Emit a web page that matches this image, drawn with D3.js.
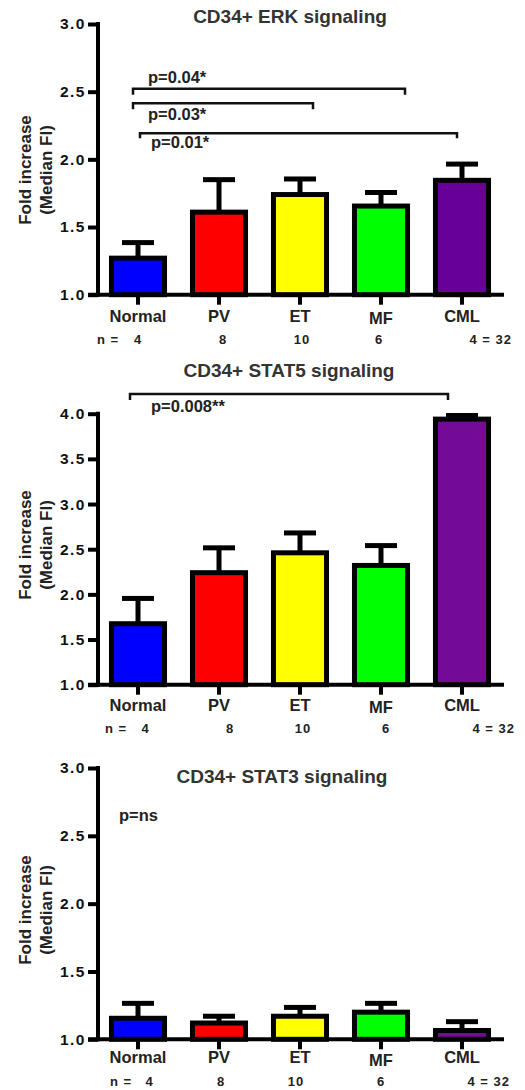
<!DOCTYPE html>
<html>
<head>
<meta charset="utf-8">
<script src="https://cdn.jsdelivr.net/npm/d3@7"></script>
<style>
  body { margin: 0; background: #fff; }
  text { font-family: Arial, "Liberation Sans", sans-serif; font-weight: bold; }
</style>
</head>
<body>
<svg width="525" height="1090"></svg>
<script>
// groups and sample sizes
const groups = ["Normal", "PV", "ET", "MF", "CML"];
const nCounts = ["4", "8", "10", "6", "4 = 32"];
const palette1 = ["#0000ff", "#ff0000", "#ffff00", "#00ff00", "#660099"];
const palette2 = ["#0000ff", "#ff0000", "#ffff00", "#00ff00", "#740a98"];

// fold increase (mean) and error (upper SEM)
const erkMean = [1.27, 1.61, 1.74, 1.655, 1.845];
const erkErr = [0.115, 0.24, 0.115, 0.10, 0.12];
const stat5Mean = [1.675, 2.24, 2.46, 2.32, 3.94];
const stat5Err = [0.28, 0.275, 0.22, 0.22, 0.04];
const stat3Mean = [1.155, 1.12, 1.17, 1.20, 1.065];
const stat3Err = [0.11, 0.05, 0.065, 0.065, 0.065];

const ticks3 = [1.0, 1.5, 2.0, 2.5, 3.0];
const ticks4 = [1.0, 1.5, 2.0, 2.5, 3.0, 3.5, 4.0];

const erkStats = [
  { text: "p=0.04*", from: "Normal", to: "MF" },
  { text: "p=0.03*", from: "Normal", to: "ET" },
  { text: "p=0.01*", from: "Normal", to: "CML" }
];
const stat5Stats = [{ text: "p=0.008**", from: "Normal", to: "CML" }];
const stat3Stats = [{ text: "p=ns" }];

const svg = d3.select("svg");

const x = d3.scaleBand()
  .domain(groups)
  .range([97.5, 502.5])
  .paddingInner(0.345)
  .paddingOuter(0.1725);
const cx = g => x(g) + x.bandwidth() / 2;

// layout per panel (pixels)
const panels = [
  {
    title: "CD34+ ERK signaling", titleX: 290, titleY: 23,
    mean: erkMean, err: erkErr, ticks: ticks3, colors: palette1,
    domain: [1, 3], range: [294.7, 24], labelDy: 27, nDy: 49,
    yTitle: 170, nX: [97, 138, 223, 302, 379, 512],
    stats: erkStats,
    statLayout: [
      { y: 88.7, d1: -5, d2: 24, drop: 6, tx: 148, ty: 83 },
      { y: 103.3, d1: -5, d2: 13, drop: 6, tx: 148, ty: 119.5 },
      { y: 133.3, d1: 2, d2: -5, drop: 5, tx: 151, ty: 148.3 }
    ]
  },
  {
    title: "CD34+ STAT5 signaling", titleX: 289, titleY: 377,
    mean: stat5Mean, err: stat5Err, ticks: ticks4, colors: palette2,
    domain: [1, 4], range: [684.7, 413.7], labelDy: 26, nDy: 48.5,
    yTitle: 545, nX: [105, 145.5, 230, 303, 386, 515],
    stats: stat5Stats,
    statLayout: [{ y: 394, d1: -8, d2: -14, drop: 6, tx: 151, ty: 412 }]
  },
  {
    title: "CD34+ STAT3 signaling", titleX: 282, titleY: 783,
    mean: stat3Mean, err: stat3Err, ticks: ticks3, colors: palette2,
    domain: [1, 3], range: [1039.3, 768], labelDy: 24, nDy: 47,
    yTitle: 910, nX: [110, 149.5, 221, 296, 381, 510],
    stats: stat3Stats,
    statLayout: [{ tx: 119, ty: 821 }]
  }
];

panels.forEach(p => {
  const y = d3.scaleLinear().domain(p.domain).range(p.range);
  const base = y(p.domain[0]);
  const chart = svg.append("g");

  // title
  chart.append("text")
    .attr("x", p.titleX).attr("y", p.titleY)
    .attr("text-anchor", "middle")
    .attr("font-size", "19px")
    .attr("fill", "#333")
    .text(p.title);

  // y axis title (two lines)
  const yt = chart.append("g")
    .attr("transform", "rotate(-90)")
    .attr("font-size", "17px")
    .attr("fill", "#222")
    .attr("text-anchor", "middle");
  yt.append("text").attr("x", -p.yTitle).attr("y", 31).text("Fold increase");
  yt.append("text").attr("x", -p.yTitle).attr("y", 52).text("(Median FI)");

  // error bars (upper only)
  const eb = chart.append("g").attr("stroke", "#000").attr("stroke-width", 5);
  groups.forEach((g, i) => {
    const top = y(p.mean[i] + p.err[i]);
    eb.append("line")
      .attr("x1", cx(g)).attr("x2", cx(g))
      .attr("y1", y(p.mean[i])).attr("y2", top);
    eb.append("line")
      .attr("x1", cx(g) - 16).attr("x2", cx(g) + 16)
      .attr("y1", top).attr("y2", top);
  });

  // bars
  chart.append("g").selectAll("rect")
    .data(groups)
    .join("rect")
    .attr("x", d => x(d))
    .attr("width", x.bandwidth())
    .attr("y", (d, i) => y(p.mean[i]))
    .attr("height", (d, i) => base - y(p.mean[i]))
    .attr("fill", (d, i) => p.colors[i])
    .attr("stroke", "#000")
    .attr("stroke-width", 5);

  // y axis
  const ya = chart.append("g")
    .attr("transform", "translate(98,0)")
    .call(d3.axisLeft(y)
      .tickValues(p.ticks)
      .tickFormat(d3.format(".1f"))
      .tickSize(10)
      .tickPadding(2)
      .tickSizeOuter(0));
  ya.select(".domain").attr("stroke-width", 4).attr("stroke", "#000")
    .attr("d", `M0,${base + 2}V${p.range[1] - 2}`);
  ya.selectAll(".tick line").attr("stroke-width", 4);
  ya.selectAll(".tick text")
    .attr("font-size", "15.5px")
    .attr("font-family", "Arial, 'Liberation Sans', sans-serif")
    .attr("font-weight", "bold")
    .attr("letter-spacing", "1.5px")
    .attr("fill", "#111");

  // x axis
  const xa = chart.append("g")
    .attr("transform", `translate(0,${base})`)
    .call(d3.axisBottom(x).tickSize(10).tickSizeOuter(0));
  xa.select(".domain").remove();
  xa.selectAll(".tick line").attr("stroke-width", 4);
  xa.selectAll(".tick text")
    .attr("font-size", "16.5px")
    .attr("font-family", "Arial, 'Liberation Sans', sans-serif")
    .attr("font-weight", "bold")
    .attr("fill", "#222")
    .attr("dy", 0)
    .attr("y", d => p.labelDy + (d === "MF" ? 2.5 : 0));
  chart.append("line")
    .attr("x1", 88).attr("x2", 504)
    .attr("y1", base).attr("y2", base)
    .attr("stroke", "#000").attr("stroke-width", 4);

  // n row
  const nr = chart.append("g")
    .attr("font-size", "13px")
    .attr("letter-spacing", "1px")
    .attr("fill", "#222");
  nr.append("text")
    .attr("x", p.nX[0]).attr("y", base + p.nDy)
    .attr("xml:space", "preserve")
    .text("n =");
  nCounts.forEach((n, i) => {
    const last = i === nCounts.length - 1;
    nr.append("text")
      .attr("x", p.nX[i + 1]).attr("y", base + p.nDy)
      .attr("text-anchor", last ? "end" : "middle")
      .attr("xml:space", "preserve")
      .text(n);
  });

  // significance brackets
  p.stats.forEach((s, i) => {
    const l = p.statLayout[i];
    if (s.from) {
      const x1 = cx(s.from) + l.d1, x2 = cx(s.to) + l.d2;
      chart.append("path")
        .attr("d", `M${x1},${l.y + l.drop}V${l.y}H${x2}V${l.y + l.drop}`)
        .attr("fill", "none")
        .attr("stroke", "#111")
        .attr("stroke-width", 2.5);
    }
    chart.append("text")
      .attr("x", l.tx).attr("y", l.ty)
      .attr("font-size", "16.5px")
      .attr("fill", "#222")
      .text(s.text);
  });
});
</script>
</body>
</html>
